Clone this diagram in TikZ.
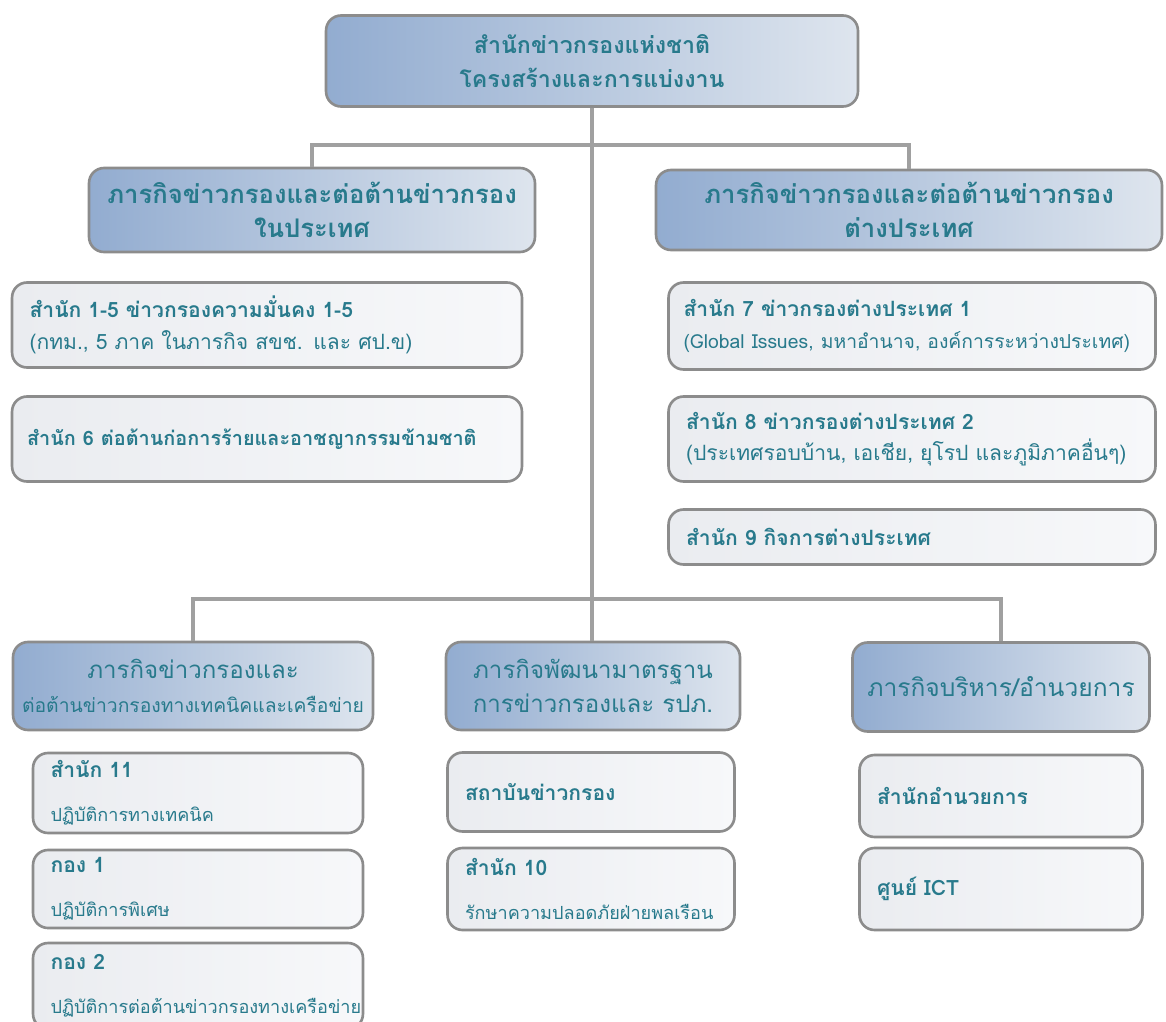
\documentclass[tikz,border=0pt]{standalone}
\usepackage{fontspec}
\newfontfamily\thaifont[Script=Thai]{Loma}
\definecolor{inktext}{RGB}{40,122,140}
\definecolor{hdrleft}{RGB}{146,172,208}
\definecolor{hdrright}{RGB}{222,229,238}
\definecolor{unitleft}{RGB}{234,236,240}
\definecolor{unitright}{RGB}{247,248,250}
\definecolor{rim}{RGB}{140,140,140}
\definecolor{wire}{RGB}{160,160,160}
\usetikzlibrary{positioning}
\tikzset{
  hdr/.style={draw=rim, line width=1.5pt, rounded corners=0.3cm,
    left color=hdrleft, right color=hdrright, align=center,
    text=inktext, inner sep=0,
    font=\thaifont\bfseries\fontsize{14.6}{19}\selectfont},
  lowhdr/.style={hdr, font=\thaifont\fontsize{13.7}{19}\selectfont},
  unit/.style={draw=rim, line width=1.5pt, rounded corners=0.3cm,
    left color=unitleft, right color=unitright, align=left,
    text=inktext, inner xsep=0.35cm, inner ysep=0,
    font=\thaifont\fontsize{12}{18}\selectfont},
  link/.style={draw=wire, line width=2pt}
}
\newcommand{\unittext}[2]{{\bfseries #1}\\[7pt]{\fontsize{10.3}{12}\selectfont #2}}

\begin{document}
\begin{tikzpicture}[x=0.02cm, y=-0.02cm]
  \useasboundingbox (0,0) rectangle (1166,1021);

  \node[hdr, font=\thaifont\bfseries\fontsize{13.2}{19}\selectfont,
        minimum width=10.64cm, minimum height=1.82cm] (top) at (592,61)
    {สำนักข่าวกรองแห่งชาติ\\โครงสร้างและการแบ่งงาน};

  \node[hdr, minimum width=8.92cm, minimum height=1.68cm] (domestic) at (312,210)
    {ภารกิจข่าวกรองและต่อต้านข่าวกรอง\\ในประเทศ};
  \node[hdr, minimum width=10.12cm, minimum height=1.6cm] (foreign) at (909,210)
    {ภารกิจข่าวกรองและต่อต้านข่าวกรอง\\ต่างประเทศ};

  \node[unit, text width=9.5cm, minimum height=1.7cm] (off15) at (267,325)
    {{\bfseries สำนัก 1-5 ข่าวกรองความมั่นคง 1-5}\\(กทม., 5 ภาค ในภารกิจ สขช. และ ศป.ข)};
  \node[unit, text width=9.6cm, inner xsep=0.3cm, minimum height=1.7cm] (off6) at (267,439)
    {\bfseries\fontsize{11.3}{18}\selectfont สำนัก 6 ต่อต้านก่อการร้ายและอาชญากรรมข้ามชาติ};

  \node[unit, text width=9.14cm, inner xsep=0.3cm, minimum height=1.74cm] (off7) at (912,326)
    {{\bfseries สำนัก 7 ข่าวกรองต่างประเทศ 1}\\{\fontsize{11}{18}\selectfont (Global Issues, มหาอำนาจ, องค์การระหว่างประเทศ)}};
  \node[unit, text width=9.04cm, minimum height=1.7cm] (off8) at (912,439)
    {{\bfseries สำนัก 8 ข่าวกรองต่างประเทศ 2}\\(ประเทศรอบบ้าน, เอเชีย, ยุโรป และภูมิภาคอื่นๆ)};
  \node[unit, text width=9.04cm, minimum height=1.1cm] (off9) at (912,537)
    {\bfseries สำนัก 9 กิจการต่างประเทศ};

  \node[lowhdr, minimum width=7.2cm, minimum height=1.76cm] (tech) at (193,686)
    {ภารกิจข่าวกรองและ\\{\fontsize{11}{15}\selectfont ต่อต้านข่าวกรองทางเทคนิคและเครือข่าย}};
  \node[lowhdr, minimum width=5.88cm, minimum height=1.76cm] (std) at (593,686)
    {ภารกิจพัฒนามาตรฐาน\\การข่าวกรองและ รปภ.};
  \node[lowhdr, font=\thaifont\fontsize{14}{19}\selectfont,
        minimum width=5.94cm, minimum height=1.78cm] (admin) at (1001,687)
    {ภารกิจบริหาร/อำนวยการ};

  \node[unit, text width=5.9cm, minimum height=1.6cm] (off11) at (198,793)
    {\unittext{สำนัก 11}{ปฏิบัติการทางเทคนิค}};
  \node[unit, text width=5.9cm, minimum height=1.56cm] (div1) at (198,889)
    {\unittext{กอง 1}{ปฏิบัติการพิเศษ}};
  \node[unit, text width=5.9cm, minimum height=1.72cm] (div2) at (198,986)
    {\unittext{กอง 2}{ปฏิบัติการต่อต้านข่าวกรองทางเครือข่าย}\\[-4pt]};

  \node[unit, text width=5.04cm, minimum height=1.58cm] (inst) at (591,792)
    {\bfseries สถาบันข่าวกรอง};
  \node[unit, text width=5.04cm, minimum height=1.64cm] (off10) at (591,889)
    {\unittext{สำนัก 10}{รักษาความปลอดภัยฝ่ายพลเรือน}};

  \node[unit, text width=4.96cm, minimum height=1.64cm] (dirofc) at (1001,796)
    {\bfseries สำนักอำนวยการ};
  \node[unit, text width=4.96cm, minimum height=1.64cm] (ict) at (1001,889)
    {\bfseries ศูนย์ ICT};

  \coordinate (jointop) at (594,145);
  \coordinate (joinlow) at (594,599);
  \draw[link] (top.south) -- (top.south |- std.north);
  \draw[link] (domestic.north) |- (jointop) -| (foreign.north);
  \draw[link] (tech.north) |- (joinlow) -| (admin.north);
\end{tikzpicture}
\end{document}
